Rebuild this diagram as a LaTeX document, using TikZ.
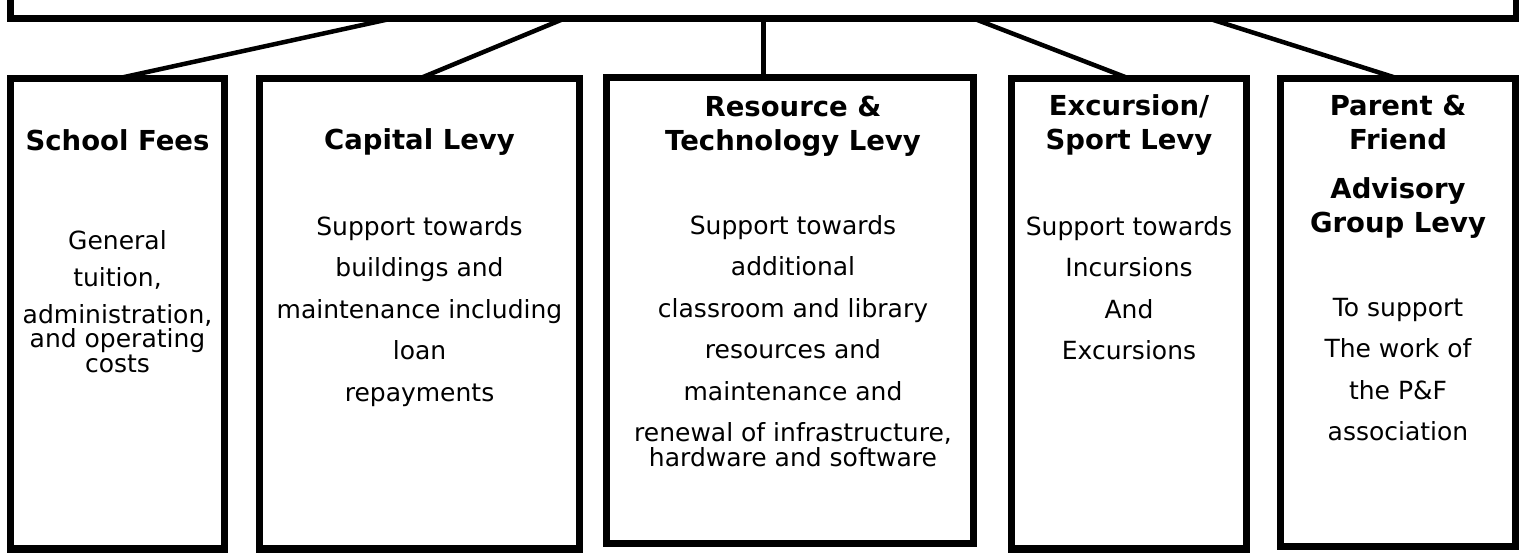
\documentclass[tikz,border=0pt]{standalone}
\usepackage{fontspec}
\setmainfont{DejaVu Sans}
\usetikzlibrary{positioning}

\begin{document}
\begin{tikzpicture}[x=1pt,y=-1pt,
  levybox/.style={draw,line width=7.5pt,outer sep=0pt,inner sep=0pt,anchor=north west},
  levytitle/.style={anchor=base,align=center,inner sep=0pt,font=\fontsize{27.5}{34}\bfseries\selectfont},
  levytext/.style={anchor=base,align=center,inner sep=0pt,font=\fontsize{25}{24.5}\selectfont},
  link/.style={line width=4.5pt}]
\useasboundingbox (0,0) rectangle (1523,553);
\node[draw,line width=6.5pt,outer sep=0pt,inner sep=0pt,anchor=south west,minimum width=1505.5pt,minimum height=80pt] (head) at (10.5,18.3) {};
\node[levybox,minimum width=214pt,minimum height=470.5pt] (fees) at (10.5,78.5) {};
\node[levybox,minimum width=320pt,minimum height=470.5pt] (capital) at (259.5,78.5) {};
\node[levybox,minimum width=367pt,minimum height=466pt] (resource) at (606.5,77.5) {};
\node[levybox,minimum width=235pt,minimum height=470.5pt] (excursion) at (1011.5,78.5) {};
\node[levybox,minimum width=235pt,minimum height=468pt] (parent) at (1280.5,78.5) {};
\coordinate (h1) at (393,18.3);
\coordinate (h2) at (565,18.3);
\coordinate (h3) at (763.5,18.3);
\coordinate (h4) at (973,18.3);
\coordinate (h5) at (1208,18.3);
\draw[link] (h1) -- (fees.north);
\draw[link] (h2) -- (capital.north);
\draw[link] (h3) -- (h3 |- resource.north);
\draw[link] (h4) -- (excursion.north);
\draw[link] (h5) -- (parent.north);
\node[levytitle] (feestitle) at (117.5,151) {School Fees};
\node[levytext] (feestext) at (117.5,372) {General\\[12.5pt]tuition,\\[12.5pt]administration,\\and operating\\costs};
\node[levytitle] (capitaltitle) at (419.5,150) {Capital Levy};
\node[levytext] (capitaltext) at (419.5,401) {Support towards\\[17pt]buildings and\\[17pt]maintenance including\\[17pt]loan\\[17pt]repayments};
\node[levytitle] (resourcetitle) at (793,151) {Resource \&\\Technology Levy};
\node[levytext] (resourcetext) at (793,466) {Support towards\\[17pt]additional\\[17pt]classroom and library\\[17pt]resources and\\[17pt]maintenance and\\[17pt]renewal of infrastructure,\\hardware and software};
\node[levytitle] (excursiontitle) at (1129,150) {Excursion/\\Sport Levy};
\node[levytext] (excursiontext) at (1129,359.5) {Support towards\\[17pt]Incursions\\[17pt]And\\[17pt]Excursions};
\node[levytitle] (parenttitle) at (1398,233) {Parent \&\\Friend\\[15pt]Advisory\\Group Levy};
\node[levytext] (parenttext) at (1398,440.5) {To support\\[17pt]The work of\\[17pt]the P\&F\\[17pt]association};
\end{tikzpicture}
\end{document}
